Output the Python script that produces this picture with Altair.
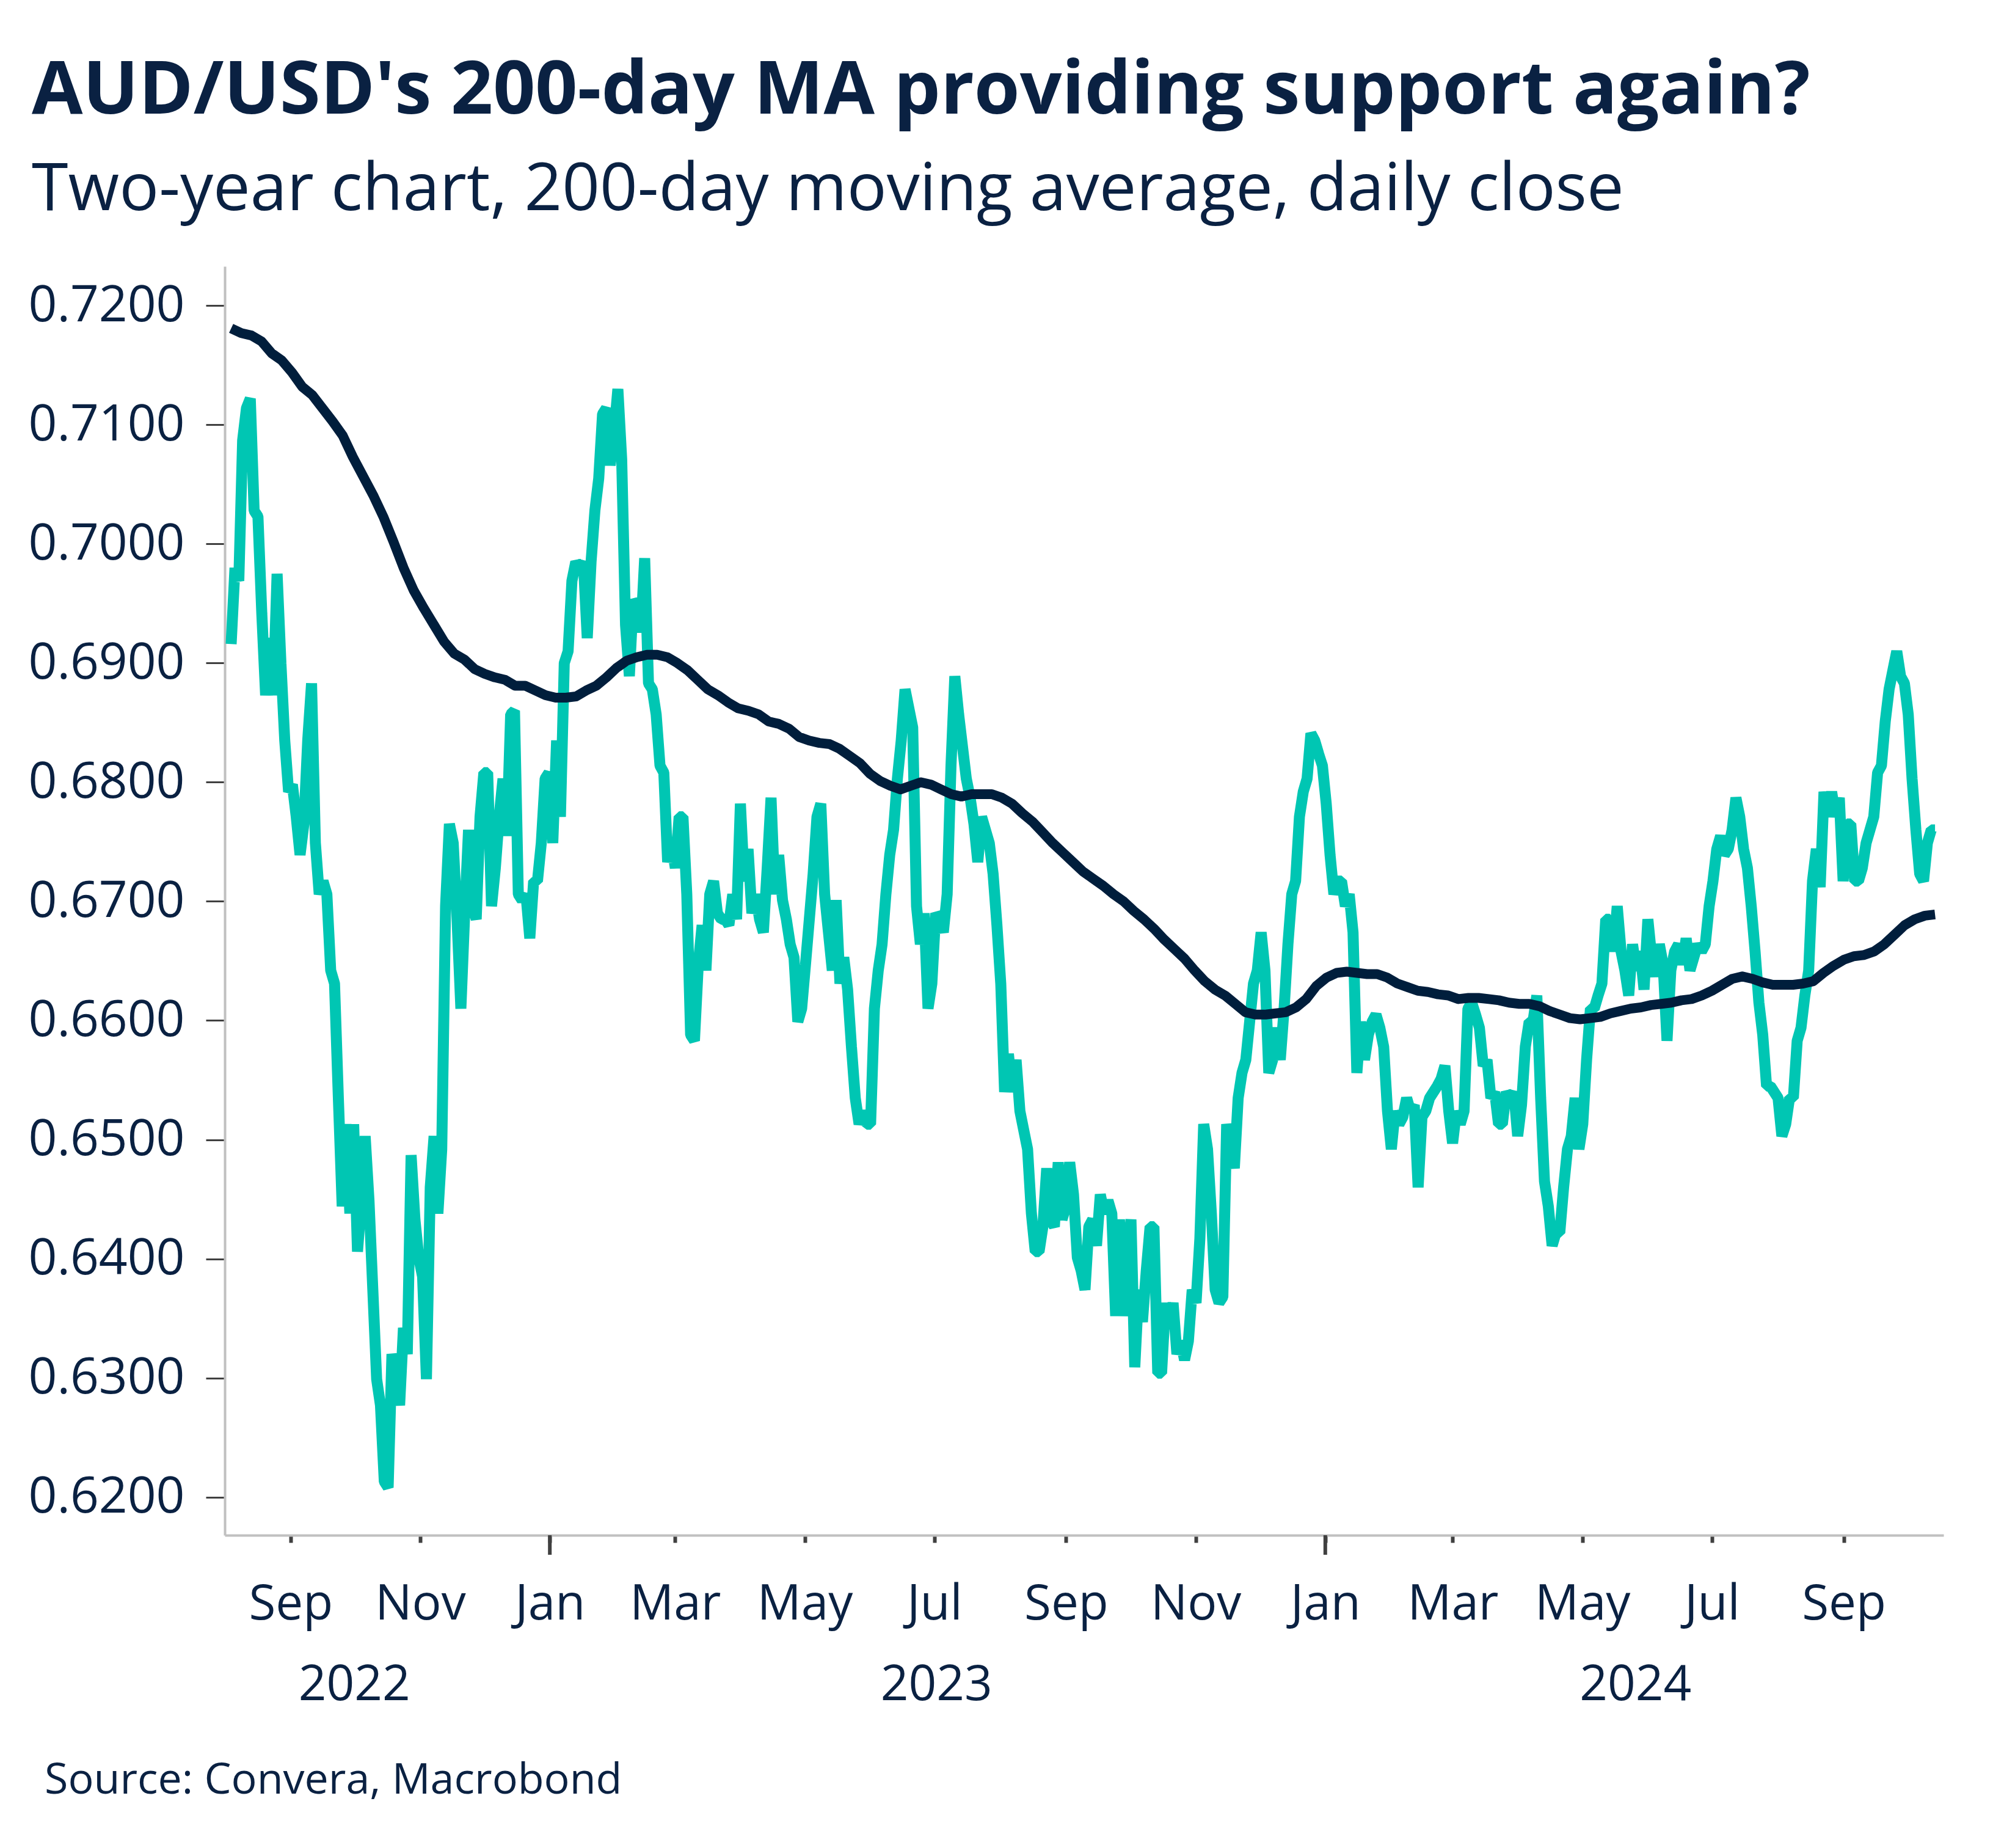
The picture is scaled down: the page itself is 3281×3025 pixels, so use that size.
import altair as alt
import pandas as pd

# ---------------- data ----------------
title_text = "AUD/USD's 200-day MA providing support again?"
subtitle_text = "Two-year chart, 200-day moving average, daily close"
source_text = "Source: Convera, Macrobond"

start_date = "2022-08-04"
end_date = "2024-10-14"

close_values = [
    0.6916, 0.6980, 0.6969, 0.7087, 0.7114, 0.7122, 0.7028, 0.7023, 0.6942, 0.6873,
    0.6921, 0.6873, 0.6975, 0.6900, 0.6835, 0.6792, 0.6798, 0.6771, 0.6739, 0.6765,
    0.6835, 0.6883, 0.6749, 0.6706, 0.6717, 0.6706, 0.6642, 0.6631, 0.6535, 0.6444,
    0.6513, 0.6438, 0.6513, 0.6406, 0.6449, 0.6503, 0.6449, 0.6374, 0.6299, 0.6277,
    0.6213, 0.6208, 0.6320, 0.6304, 0.6277, 0.6342, 0.6320, 0.6487, 0.6433, 0.6401,
    0.6385, 0.6299, 0.6460, 0.6503, 0.6438, 0.6492, 0.6696, 0.6765, 0.6749, 0.6685,
    0.6610, 0.6690, 0.6760, 0.6696, 0.6685, 0.6771, 0.6808, 0.6808, 0.6696, 0.6728,
    0.6771, 0.6803, 0.6755, 0.6857, 0.6860, 0.6706, 0.6701, 0.6706, 0.6669, 0.6717,
    0.6717, 0.6749, 0.6803, 0.6808, 0.6749, 0.6835, 0.6771, 0.6900, 0.6910, 0.6969,
    0.6985, 0.6980, 0.6985, 0.6921, 0.6985, 0.7028, 0.7055, 0.7109, 0.7114, 0.7066,
    0.7093, 0.7130, 0.7071, 0.6932, 0.6889, 0.6953, 0.6948, 0.6926, 0.6988, 0.6883,
    0.6878, 0.6857, 0.6814, 0.6808, 0.6733, 0.6749, 0.6728, 0.6771, 0.6771, 0.6706,
    0.6588, 0.6583, 0.6647, 0.6680, 0.6642, 0.6706, 0.6717, 0.6690, 0.6685, 0.6685,
    0.6680, 0.6706, 0.6685, 0.6782, 0.6717, 0.6744, 0.6690, 0.6706, 0.6685, 0.6674,
    0.6728, 0.6787, 0.6706, 0.6739, 0.6701, 0.6685, 0.6664, 0.6653, 0.6599, 0.6610,
    0.6647, 0.6685, 0.6723, 0.6771, 0.6782, 0.6706, 0.6674, 0.6642, 0.6701, 0.6631,
    0.6653, 0.6626, 0.6578, 0.6535, 0.6513, 0.6524, 0.6513, 0.6513, 0.6610, 0.6642,
    0.6664, 0.6706, 0.6739, 0.6760, 0.6803, 0.6835, 0.6878, 0.6862, 0.6846, 0.6696,
    0.6664, 0.6690, 0.6610, 0.6631, 0.6690, 0.6685, 0.6674, 0.6706, 0.6814, 0.6889,
    0.6857, 0.6830, 0.6803, 0.6787, 0.6765, 0.6733, 0.6771, 0.6760, 0.6749, 0.6723,
    0.6680, 0.6631, 0.6540, 0.6572, 0.6540, 0.6567, 0.6524, 0.6508, 0.6492, 0.6438,
    0.6406, 0.6406, 0.6427, 0.6476, 0.6433, 0.6427, 0.6481, 0.6433, 0.6444, 0.6481,
    0.6454, 0.6401, 0.6390, 0.6374, 0.6427, 0.6433, 0.6411, 0.6454, 0.6438, 0.6449,
    0.6438, 0.6352, 0.6433, 0.6352, 0.6401, 0.6433, 0.6309, 0.6374, 0.6347, 0.6390,
    0.6427, 0.6427, 0.6304, 0.6304, 0.6363, 0.6342, 0.6363, 0.6320, 0.6331, 0.6315,
    0.6331, 0.6374, 0.6363, 0.6417, 0.6513, 0.6492, 0.6438, 0.6374, 0.6363, 0.6368,
    0.6513, 0.6497, 0.6476, 0.6535, 0.6556, 0.6567, 0.6599, 0.6631, 0.6642, 0.6674,
    0.6642, 0.6556, 0.6567, 0.6594, 0.6567, 0.6610, 0.6664, 0.6706, 0.6717, 0.6771,
    0.6792, 0.6803, 0.6841, 0.6835, 0.6824, 0.6814, 0.6782, 0.6739, 0.6706, 0.6717,
    0.6717, 0.6696, 0.6706, 0.6674, 0.6556, 0.6599, 0.6567, 0.6588, 0.6599, 0.6605,
    0.6594, 0.6578, 0.6524, 0.6492, 0.6524, 0.6513, 0.6519, 0.6535, 0.6524, 0.6529,
    0.6460, 0.6519, 0.6524, 0.6535, 0.6540, 0.6545, 0.6551, 0.6562, 0.6524, 0.6497,
    0.6524, 0.6513, 0.6524, 0.6610, 0.6615, 0.6605, 0.6594, 0.6562, 0.6567, 0.6535,
    0.6540, 0.6513, 0.6513, 0.6540, 0.6535, 0.6540, 0.6503, 0.6529, 0.6578, 0.6599,
    0.6599, 0.6621, 0.6535, 0.6465, 0.6444, 0.6411, 0.6422, 0.6422, 0.6460, 0.6492,
    0.6503, 0.6535, 0.6492, 0.6513, 0.6567, 0.6610, 0.6610, 0.6621, 0.6631, 0.6685,
    0.6685, 0.6658, 0.6696, 0.6658, 0.6642, 0.6621, 0.6664, 0.6642, 0.6658, 0.6626,
    0.6685, 0.6653, 0.6637, 0.6664, 0.6647, 0.6583, 0.6642, 0.6658, 0.6664, 0.6647,
    0.6669, 0.6642, 0.6653, 0.6664, 0.6658, 0.6664, 0.6696, 0.6717, 0.6744, 0.6755,
    0.6739, 0.6744, 0.6760, 0.6787, 0.6771, 0.6744, 0.6728, 0.6696, 0.6658, 0.6615,
    0.6588, 0.6545, 0.6545, 0.6540, 0.6535, 0.6503, 0.6513, 0.6535, 0.6535, 0.6583,
    0.6594, 0.6621, 0.6642, 0.6717, 0.6744, 0.6712, 0.6792, 0.6771, 0.6792, 0.6771,
    0.6787, 0.6717, 0.6765, 0.6765, 0.6717, 0.6717, 0.6728, 0.6749, 0.6760, 0.6771,
    0.6808, 0.6814, 0.6851, 0.6878, 0.6894, 0.6910, 0.6889, 0.6883, 0.6857, 0.6803,
    0.6760, 0.6723, 0.6717, 0.6749, 0.6760, 0.6760,
]

ma_values = [
    0.7181, 0.7177, 0.7175, 0.7170, 0.7160, 0.7154, 0.7144, 0.7132, 0.7125, 0.7114,
    0.7103, 0.7091, 0.7073, 0.7057, 0.7041, 0.7023, 0.7002, 0.6980, 0.6961, 0.6946,
    0.6932, 0.6918, 0.6908, 0.6903, 0.6895, 0.6891, 0.6888, 0.6886, 0.6881, 0.6881,
    0.6877, 0.6873, 0.6871, 0.6871, 0.6872, 0.6877, 0.6881, 0.6888, 0.6896, 0.6902,
    0.6905, 0.6907, 0.6907, 0.6905, 0.6900, 0.6894, 0.6886, 0.6878, 0.6873, 0.6867,
    0.6862, 0.6860, 0.6857, 0.6851, 0.6849, 0.6845, 0.6838, 0.6835, 0.6833, 0.6832,
    0.6828, 0.6822, 0.6816, 0.6807, 0.6801, 0.6797, 0.6794, 0.6797, 0.6800, 0.6798,
    0.6794, 0.6790, 0.6788, 0.6790, 0.6790, 0.6790, 0.6787, 0.6782, 0.6774, 0.6767,
    0.6758, 0.6749, 0.6741, 0.6733, 0.6725, 0.6719, 0.6713, 0.6706, 0.6700, 0.6692,
    0.6685, 0.6677, 0.6668, 0.6660, 0.6652, 0.6642, 0.6633, 0.6626, 0.6621, 0.6614,
    0.6607, 0.6605, 0.6605, 0.6606, 0.6607, 0.6611, 0.6618, 0.6629, 0.6636, 0.6640,
    0.6641, 0.6640, 0.6639, 0.6639, 0.6636, 0.6631, 0.6628, 0.6625, 0.6624, 0.6622,
    0.6621, 0.6618, 0.6619, 0.6619, 0.6618, 0.6617, 0.6615, 0.6614, 0.6614, 0.6612,
    0.6608, 0.6605, 0.6602, 0.6601, 0.6602, 0.6603, 0.6606, 0.6608, 0.6610, 0.6611,
    0.6613, 0.6614, 0.6615, 0.6617, 0.6618, 0.6621, 0.6625, 0.6630, 0.6635, 0.6637,
    0.6635, 0.6632, 0.6630, 0.6630, 0.6630, 0.6631, 0.6633, 0.6640, 0.6646, 0.6651,
    0.6654, 0.6655, 0.6658, 0.6664, 0.6672, 0.6680, 0.6685, 0.6688, 0.6689,
]

month_tick_dates = [
    (2022, 9), (2022, 11), (2023, 1), (2023, 3), (2023, 5), (2023, 7), (2023, 9),
    (2023, 11), (2024, 1), (2024, 3), (2024, 5), (2024, 7), (2024, 9),
]
year_start_ticks = ["2023-01-01", "2024-01-01"]
y_tick_values = [0.62, 0.63, 0.64, 0.65, 0.66, 0.67, 0.68, 0.69, 0.70, 0.71, 0.72]
year_labels = ["2022", "2023", "2024"]
year_label_dates = ["2022-10-01", "2023-07-02", "2024-05-26"]

# ---------------- style ----------------
TEAL = "#00C6B3"
NAVY = "#001E3C"
TEXT = "#0A2142"
FONT = "Open Sans"
W, H = 2814, 2077

close_df = pd.DataFrame({
    "date": pd.date_range(start_date, end_date, periods=len(close_values)),
    "value": close_values,
})
ma_df = pd.DataFrame({
    "date": pd.date_range(start_date, end_date, periods=len(ma_values)),
    "value": ma_values,
})
year_tick_df = pd.DataFrame({"date": pd.to_datetime(year_start_ticks)})
year_df = pd.DataFrame({"date": pd.to_datetime(year_label_dates), "label": year_labels})

x_scale = alt.Scale(domain=[alt.DateTime(year=2022, month=8, date=1),
                            alt.DateTime(year=2024, month=10, date=18)])
y_scale = alt.Scale(domain=[0.6168, 0.7233], nice=False, zero=False)

x_axis = alt.Axis(
    values=[alt.DateTime(year=y, month=m, date=1) for y, m in month_tick_dates],
    format="%b", title=None, grid=False, labelFlush=False, labelLimit=0,
    domainColor="#C0C0C0", domainWidth=4, tickColor="#404040", tickWidth=6,
    tickSize=12, labelFontSize=80, labelColor=TEXT, labelFont=FONT, labelPadding=62,
)
y_axis = alt.Axis(
    values=y_tick_values, format=".4f", title=None, grid=False, labelLimit=0,
    domainColor="#C0C0C0", domainWidth=4, tickColor="#404040", tickWidth=3,
    tickSize=31, labelFontSize=82, labelColor=TEXT, labelFont=FONT, labelPadding=35,
)

close_line = alt.Chart(close_df).mark_line(
    color=TEAL, strokeWidth=18, strokeJoin="bevel"
).encode(
    x=alt.X("date:T", scale=x_scale, axis=x_axis),
    y=alt.Y("value:Q", scale=y_scale, axis=y_axis),
)

ma_line = alt.Chart(ma_df).mark_line(
    color=NAVY, strokeWidth=16, strokeJoin="round"
).encode(
    x=alt.X("date:T", scale=x_scale),
    y=alt.Y("value:Q", scale=y_scale),
)

year_ticks = alt.Chart(year_tick_df).mark_rule(
    color="#404040", strokeWidth=6
).encode(
    x=alt.X("date:T", scale=x_scale),
    y=alt.value(H),
    y2=alt.value(H + 32),
)

year_text = alt.Chart(year_df).mark_text(
    font=FONT, fontSize=80, color=TEXT, baseline="alphabetic", align="center"
).encode(
    x=alt.X("date:T", scale=x_scale),
    y=alt.value(2347),
    text="label:N",
)

title_mark = alt.Chart(pd.DataFrame({"t": [title_text]})).mark_text(
    font=FONT, fontSize=121, fontWeight="bold", color=TEXT,
    align="left", baseline="alphabetic",
).encode(x=alt.value(-316), y=alt.value(-250), text="t:N")

subtitle_mark = alt.Chart(pd.DataFrame({"t": [subtitle_text]})).mark_text(
    font=FONT, fontSize=108, color=TEXT, align="left", baseline="alphabetic",
).encode(x=alt.value(-316), y=alt.value(-92), text="t:N")

source_mark = alt.Chart(pd.DataFrame({"t": [source_text]})).mark_text(
    font=FONT, fontSize=70, color=TEXT, align="left", baseline="alphabetic",
).encode(x=alt.value(-295), y=alt.value(2500), text="t:N")

chart = alt.layer(
    close_line, ma_line, year_ticks, year_text, title_mark, subtitle_mark, source_mark
).properties(
    width=W, height=H,
    background="white",
    autosize=alt.AutoSizeParams(type="none"),
    padding={"left": 360, "top": 428, "right": 90, "bottom": 490},
).configure_view(stroke=None, strokeWidth=0)

chart.save("out.html", embed_options={"renderer": "svg", "actions": False})
